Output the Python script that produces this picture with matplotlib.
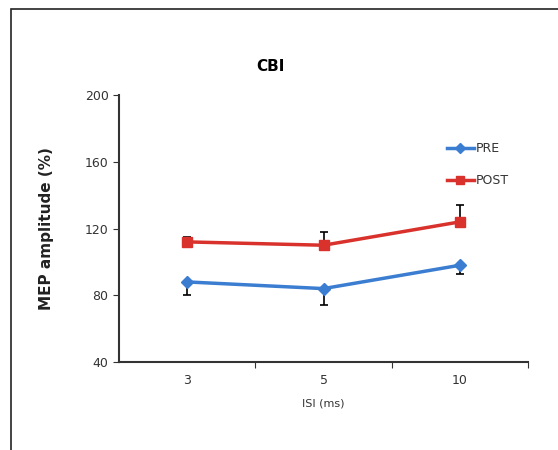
import matplotlib
matplotlib.use('Agg')
import matplotlib.pyplot as plt
from matplotlib.patches import Rectangle
from matplotlib.lines import Line2D

# Data
isi_labels = ['3', '5', '10']
pre_vals = [88, 84, 98]
pre_err_low = [8, 10, 5]
post_vals = [112, 110, 124]
post_err_up = [3, 8, 10]

pre_color = '#3b7dd0'
post_color = '#d9312b'

fig = plt.figure(figsize=(5.58, 4.5), dpi=100)
ax = fig.add_axes([0.2133, 0.1956, 0.733, 0.593])

x = [i + 0.5 for i in range(len(isi_labels))]

ax.errorbar(x, pre_vals, yerr=[pre_err_low, [0] * 3], color=pre_color,
            marker='D', markersize=6, linewidth=2.5, ecolor='black',
            elinewidth=1.2, capsize=3, capthick=1.2, zorder=3)
ax.errorbar(x, post_vals, yerr=[[0] * 3, post_err_up], color=post_color,
            marker='s', markersize=7.5, linewidth=2.5, ecolor='black',
            elinewidth=1.2, capsize=3, capthick=1.2, zorder=3)

ax.set_xlim(0, 3)
ax.set_ylim(40, 200)
ax.set_yticks([40, 80, 120, 160, 200])
ax.set_xticks([1, 2, 3])
ax.set_xticklabels([])
ax.set_xticks(x, minor=True)
ax.set_xticklabels(isi_labels, minor=True)
ax.tick_params(axis='x', which='minor', length=0, pad=9, labelsize=9, labelcolor='#333333')
ax.tick_params(axis='x', which='major', length=4, direction='out', color='#333333')
ax.tick_params(axis='y', length=4, direction='out', labelsize=9, labelcolor='#333333', color='#333333')

for s in ['top', 'right']:
    ax.spines[s].set_visible(False)
for s in ['left', 'bottom']:
    ax.spines[s].set_color('#333333')
    ax.spines[s].set_linewidth(1.5)

ax.set_ylabel('MEP amplitude (%)', fontsize=11, fontweight='bold', color='#222222', labelpad=22)
ax.set_xlabel('ISI (ms)', fontsize=8, color='#333333', labelpad=8)
fig.text(0.484, 0.853, 'CBI', fontsize=11, fontweight='bold', ha='center', va='center')

handles = [Line2D([], [], color=pre_color, marker='D', markersize=5, linewidth=2.5, label='PRE'),
           Line2D([], [], color=post_color, marker='s', markersize=6, linewidth=2.5, label='POST')]
leg = ax.legend(handles=handles, loc='upper right', bbox_to_anchor=(0.98, 0.865), frameon=False,
                fontsize=9, labelspacing=1.5, handlelength=2.2, handletextpad=0.1)
for t in leg.get_texts():
    t.set_color('#333333')

fig.patches.append(Rectangle((11 / 558, -0.01), 1, 1 - 9 / 450 + 0.01,
                             transform=fig.transFigure, fill=False,
                             edgecolor='#222222', linewidth=1.2))

fig.savefig('out.png', dpi=100)
